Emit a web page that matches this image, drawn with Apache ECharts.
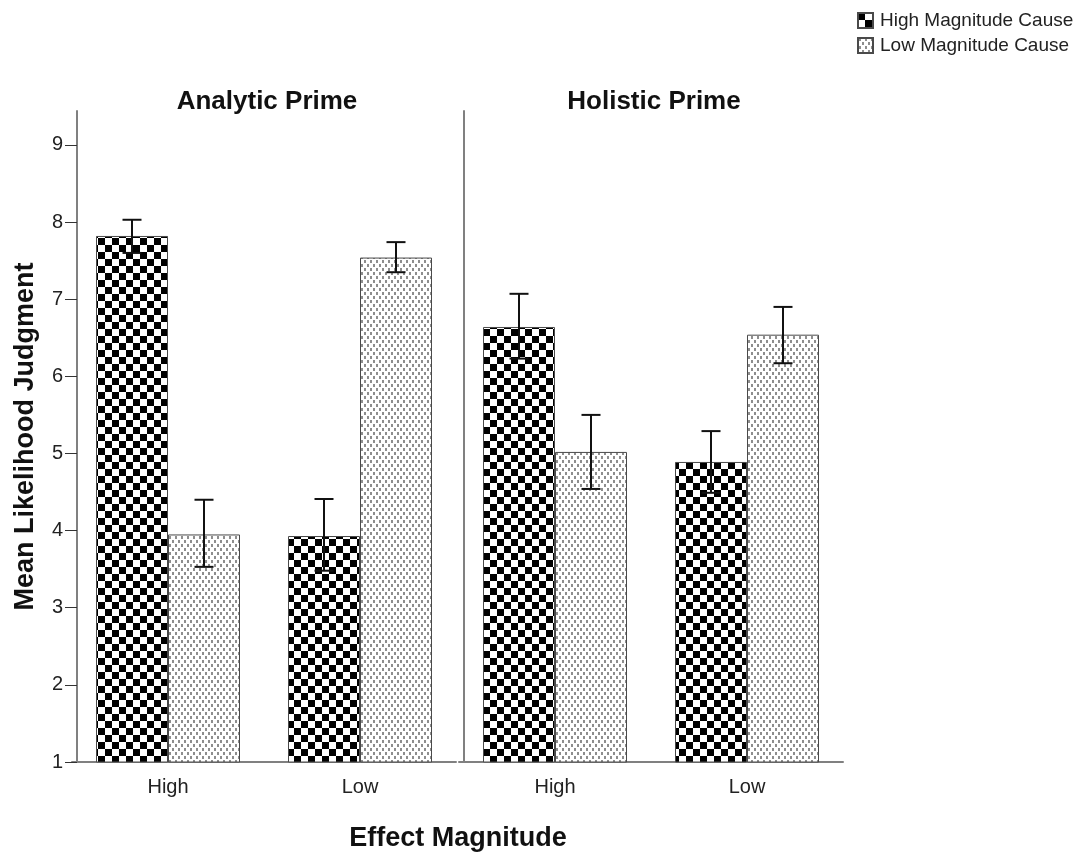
<!DOCTYPE html>
<html>
<head>
<meta charset="utf-8">
<script src="https://cdn.jsdelivr.net/npm/echarts@6/dist/echarts.min.js"></script>
<style>
  html, body { margin: 0; padding: 0; background: #fff; }
  #chart { width: 1087px; height: 853px; }
</style>
</head>
<body>
<div id="chart"></div>
<script>
// Effect magnitude categories and y-axis ticks
const categories = ['High', 'Low'];
const yTicks = [1, 2, 3, 4, 5, 6, 7, 8, 9];
const seriesNames = ['High Magnitude Cause', 'Low Magnitude Cause'];
const panelTitles = ['Analytic Prime', 'Holistic Prime'];

// Analytic prime: means and error bar bounds
const analyticHighCause = [7.82, 3.93];
const analyticHighCauseLo = [7.60, 3.48];
const analyticHighCauseHi = [8.03, 4.41];
const analyticLowCause = [3.95, 7.54];
const analyticLowCauseLo = [3.53, 7.35];
const analyticLowCauseHi = [4.40, 7.74];

// Holistic prime: means and error bar bounds
const holisticHighCause = [6.64, 4.89];
const holisticHighCauseLo = [6.23, 4.49];
const holisticHighCauseHi = [7.07, 5.29];
const holisticLowCause = [5.02, 6.54];
const holisticLowCauseLo = [4.54, 6.17];
const holisticLowCauseHi = [5.50, 6.90];

// Fill patterns: checkerboard and light dotted stipple
function checkerTile() {
  const c = document.createElement('canvas');
  c.width = 14; c.height = 14;
  const g = c.getContext('2d');
  g.fillStyle = '#fff'; g.fillRect(0, 0, 14, 14);
  g.fillStyle = '#000';
  g.fillRect(0, 0, 7, 7);
  g.fillRect(7, 7, 7, 7);
  return c;
}
function dotTile() {
  const c = document.createElement('canvas');
  c.width = 6; c.height = 8;
  const g = c.getContext('2d');
  g.fillStyle = '#fff'; g.fillRect(0, 0, 6, 8);
  g.fillStyle = '#8e8e8e';
  g.fillRect(1, 0, 2, 3);
  g.fillRect(4, 4, 2, 3);
  return c;
}
const darkFill = { image: checkerTile(), repeat: 'repeat' };
const lightFill = { image: dotTile(), repeat: 'repeat' };

const FONT = '"Liberation Sans", Arial, sans-serif';
const BAR_W = 72;

function errorSeries(name, lo, hi, gridIdx, side) {
  return {
    type: 'custom',
    name: name + ' err',
    xAxisIndex: gridIdx,
    yAxisIndex: gridIdx,
    z: 5,
    silent: true,
    data: categories.map((c, i) => [i, lo[i], hi[i]]),
    renderItem: function (params, api) {
      const x = api.coord([api.value(0), api.value(1)])[0] + side * BAR_W / 2;
      const yLo = api.coord([api.value(0), api.value(1)])[1];
      const yHi = api.coord([api.value(0), api.value(2)])[1];
      const half = 9.5;
      const st = { stroke: '#111', lineWidth: 2 };
      return {
        type: 'group',
        children: [
          { type: 'line', shape: { x1: x, y1: yLo, x2: x, y2: yHi }, style: st },
          { type: 'line', shape: { x1: x - half, y1: yHi, x2: x + half, y2: yHi }, style: st },
          { type: 'line', shape: { x1: x - half, y1: yLo, x2: x + half, y2: yLo }, style: st }
        ]
      };
    }
  };
}

function barSeries(name, values, gridIdx, fill) {
  return {
    type: 'bar',
    name: name,
    xAxisIndex: gridIdx,
    yAxisIndex: gridIdx,
    barWidth: BAR_W,
    barGap: '0%',
    data: values,
    itemStyle: { color: fill, borderColor: '#4a4a4a', borderWidth: 1 }
  };
}

const grids = [
  { left: 72, width: 384, top: 111, bottom: 91 },
  { left: 459, width: 384, top: 111, bottom: 91 }
];

const xAxes = grids.map((g, i) => ({
  type: 'category',
  gridIndex: i,
  data: categories,
  axisLine: { lineStyle: { color: '#808080', width: 2 } },
  axisTick: { alignWithLabel: true, length: 10, lineStyle: { color: '#333' } },
  axisLabel: { color: '#222', fontSize: 20, fontFamily: FONT, margin: 15 }
}));

const yAxes = grids.map((g, i) => ({
  type: 'value',
  gridIndex: i,
  min: 1,
  max: 9.44,
  interval: 1,
  offset: -5,
  splitLine: { show: false },
  axisLine: { show: true, lineStyle: { color: '#808080', width: 2 } },
  axisTick: { show: i === 0, length: 12, customValues: yTicks, lineStyle: { color: '#333' } },
  axisLabel: {
    show: i === 0, color: '#222', fontSize: 20, fontFamily: FONT, margin: 14,
    customValues: yTicks
  },
  name: i === 0 ? 'Mean Likelihood Judgment' : '',
  nameLocation: 'middle',
  nameRotate: 90,
  nameGap: 38,
  nameTextStyle: { fontSize: 27, fontWeight: 'bold', color: '#111', fontFamily: FONT }
}));

const chart = echarts.init(document.getElementById('chart'), null, { renderer: 'canvas' });
chart.setOption({
  backgroundColor: '#fff',
  animation: false,
  title: [
    { text: panelTitles[0], left: 262, top: 84, textAlign: 'center',
      textStyle: { fontSize: 26, fontWeight: 'bold', color: '#111', fontFamily: FONT } },
    { text: panelTitles[1], left: 649, top: 84, textAlign: 'center',
      textStyle: { fontSize: 26, fontWeight: 'bold', color: '#111', fontFamily: FONT } },
    { text: 'Effect Magnitude', left: 453, top: 820, textAlign: 'center',
      textStyle: { fontSize: 27, fontWeight: 'bold', color: '#111', fontFamily: FONT } }
  ],
  legend: {
    data: seriesNames,
    orient: 'vertical',
    left: 852,
    top: 6,
    itemWidth: 15,
    itemHeight: 15,
    itemGap: 6,
    icon: 'rect',
    textStyle: { fontSize: 19, color: '#222', fontFamily: FONT, padding: [0, 0, 0, 2] }
  },
  grid: grids,
  xAxis: xAxes,
  yAxis: yAxes,
  series: [
    barSeries(seriesNames[0], analyticHighCause, 0, darkFill),
    barSeries(seriesNames[1], analyticLowCause, 0, lightFill),
    barSeries(seriesNames[0], holisticHighCause, 1, darkFill),
    barSeries(seriesNames[1], holisticLowCause, 1, lightFill),
    errorSeries('a-high', analyticHighCauseLo, analyticHighCauseHi, 0, -1),
    errorSeries('a-low', analyticLowCauseLo, analyticLowCauseHi, 0, 1),
    errorSeries('h-high', holisticHighCauseLo, holisticHighCauseHi, 1, -1),
    errorSeries('h-low', holisticLowCauseLo, holisticLowCauseHi, 1, 1)
  ]
});
</script>
</body>
</html>
